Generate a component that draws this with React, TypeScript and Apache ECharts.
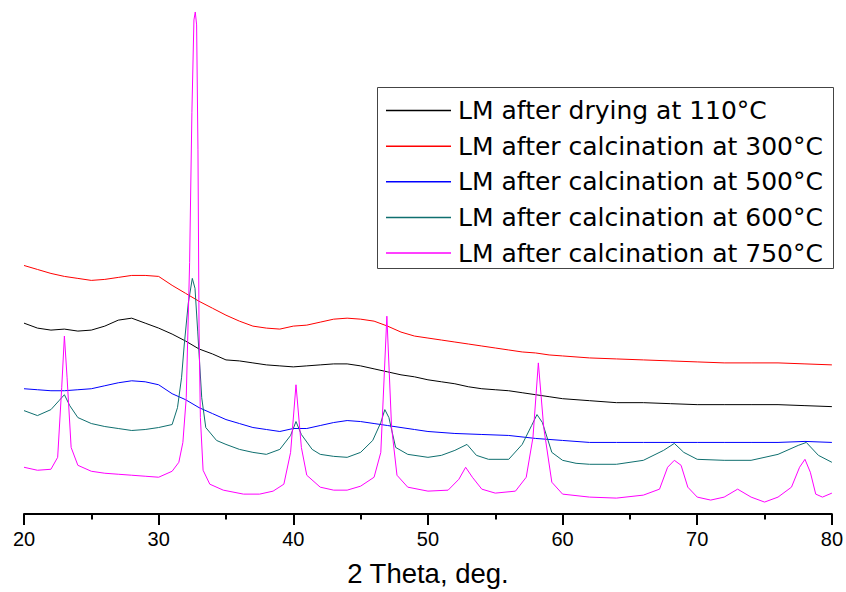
import React, { useEffect, useRef } from "react";
import * as echarts from "echarts";

const seriesNames = [
  "LM after drying at 110°C",
  "LM after calcination at 300°C",
  "LM after calcination at 500°C",
  "LM after calcination at 600°C",
  "LM after calcination at 750°C",
];
const seriesColors = ["#000000", "#ff0000", "#0000ff", "#0f6f6f", "#ff00ff"];

const xTickLabels = ["20", "30", "40", "50", "60", "70", "80"];

// [2θ, intensity (arb. units, stacked offsets as plotted)]
const dried110: [number, number][] = [
  [20, 192], [21, 187], [22, 185], [23, 186], [24, 184], [25, 185], [26, 189], [27, 195],
  [28, 197], [29, 192], [30, 187], [31, 181], [32, 174], [33, 166], [34, 161], [35, 155],
  [36, 154], [37, 152], [38, 150], [39, 149], [40, 148], [41, 149], [42, 150], [43, 151],
  [44, 151], [45, 149], [46, 146], [47, 143], [48, 140], [49, 138], [50, 135], [51, 133],
  [52, 131], [53, 128], [54, 126], [55, 125], [56, 124], [57, 122], [58, 120], [59, 118],
  [60, 116], [62, 114], [64, 112], [66, 112], [68, 111], [70, 110], [72, 110], [74, 110],
  [76, 110], [78, 109], [80, 108],
];

const calc300: [number, number][] = [
  [20, 250], [21, 246], [22, 242], [23, 239], [24, 237], [25, 235], [26, 236], [27, 238],
  [28, 240], [29, 240], [30, 239], [31, 230], [32, 222], [33, 214], [34, 207], [35, 200],
  [36, 194], [37, 189], [38, 187], [39, 186], [40, 189], [41, 190], [42, 193], [43, 196],
  [44, 197], [45, 196], [46, 194], [47, 189], [48, 183], [49, 179], [50, 177], [51, 175],
  [52, 173], [53, 171], [54, 169], [55, 167], [56, 165], [57, 163], [58, 162], [59, 160],
  [60, 159], [62, 157], [64, 156], [66, 155], [68, 154], [70, 153], [72, 152], [74, 152],
  [76, 152], [78, 151], [80, 150],
];

const calc500: [number, number][] = [
  [20, 126], [21, 125], [22, 124], [23, 124], [24, 125], [25, 126], [26, 129], [27, 132],
  [28, 134], [29, 133], [30, 130], [31, 121], [32, 115], [33, 107], [34, 101], [35, 95],
  [36, 91], [37, 87], [38, 85], [39, 83], [40, 86], [41, 86], [42, 89], [43, 92],
  [44, 94], [45, 93], [46, 91], [47, 89], [48, 87], [49, 85], [50, 83], [52, 81],
  [54, 80], [56, 79], [58, 76], [60, 74], [62, 72], [64, 72], [66, 72], [68, 72],
  [70, 72], [72, 72], [74, 72], [76, 72], [78, 73], [80, 72],
];

const calc600: [number, number][] = [
  [20, 104], [21, 99], [22, 105], [22.6, 114], [23.0, 120], [23.4, 109], [24, 97], [25, 91],
  [26, 88], [27, 86], [28, 84], [29, 85], [30, 87], [31, 90], [31.4, 107], [31.7, 137],
  [31.9, 170], [32.2, 212], [32.5, 237], [32.7, 227], [32.9, 184], [33.2, 117], [33.5, 87],
  [34.3, 74], [35, 70], [36, 65], [37, 62], [38, 60], [39, 65], [39.8, 79], [40.2, 93],
  [40.6, 80], [41.4, 65], [42, 60], [43, 58], [44, 57], [45, 62], [45.9, 74], [46.5, 92],
  [46.8, 105], [47.1, 97], [47.6, 67], [48.5, 60], [50, 57], [51, 59], [52, 64], [52.9, 70],
  [53.6, 59], [54.5, 55], [56, 55], [57, 70], [57.7, 89], [58.1, 100], [58.5, 92],
  [59.2, 62], [60, 54], [61, 51], [62, 50], [64, 50], [66, 54], [67.5, 64], [68.3, 71],
  [69, 62], [70, 55], [72, 54], [74, 54], [76, 60], [77.5, 69], [78.1, 72], [79, 59],
  [80, 52],
];

const calc750: [number, number][] = [
  [20, 47], [21, 44], [22, 45], [22.5, 57], [22.8, 127], [23.0, 179], [23.2, 137], [23.5, 67],
  [24, 49], [25, 43], [26, 41], [27, 40], [28, 39], [29, 38], [30, 37], [31, 43],
  [31.5, 52], [31.8, 72], [32.05, 117], [32.3, 253], [32.47, 404], [32.62, 497],
  [32.72, 505], [32.82, 492], [32.92, 367], [33.0, 187], [33.1, 97], [33.3, 44],
  [33.8, 30], [34.8, 24], [36.3, 20], [37.5, 20], [38.5, 23], [39.3, 30], [39.8, 62],
  [40.2, 130], [40.6, 67], [41, 39], [42, 27], [43, 24], [44, 24], [45, 28], [46, 37],
  [46.5, 62], [46.95, 199], [47.3, 87], [47.7, 39], [48.5, 27], [50, 23], [51.5, 24],
  [52.3, 35], [52.8, 47], [53.3, 37], [54, 25], [55, 21], [56.5, 23], [57.3, 37],
  [57.8, 77], [58.2, 152], [58.6, 87], [59.2, 32], [60, 20], [62, 17], [64, 16], [66, 19],
  [67.2, 25], [67.8, 47], [68.3, 54], [68.8, 49], [69.3, 27], [70, 17], [71, 14], [72, 17],
  [73, 25], [74, 17], [75, 12], [76, 17], [77, 27], [77.6, 47], [78, 55], [78.4, 42],
  [78.8, 20], [79.3, 17], [80, 21],
];

const seriesData = [dried110, calc300, calc500, calc600, calc750];

export default function App() {
  const ref = useRef<HTMLDivElement>(null);
  useEffect(() => {
    if (!ref.current) return;
    const chart = echarts.init(ref.current, null, { renderer: "svg" });
    chart.setOption({
      animation: false,
      backgroundColor: "#ffffff",
      textStyle: { fontFamily: "Liberation Sans, Arial, sans-serif" },
      grid: { left: 24, right: 12, top: 11, bottom: 75, containLabel: false },
      xAxis: {
        type: "value",
        min: 20,
        max: 80,
        interval: 10,
        name: "2 Theta, deg.",
        nameLocation: "middle",
        nameGap: 45,
        nameTextStyle: { fontSize: 27.5, color: "#000", fontFamily: "Liberation Sans, Arial, sans-serif" },
        axisLine: { show: true, lineStyle: { color: "#000", width: 2 } },
        axisTick: { show: true, inside: false, length: 11, lineStyle: { color: "#000", width: 2 } },
        minorTick: { show: true, splitNumber: 2, length: 5.5, lineStyle: { color: "#000", width: 2 } },
        splitLine: { show: false },
        minorSplitLine: { show: false },
        axisLabel: {
          fontSize: 20,
          color: "#000",
          margin: 15,
          fontFamily: "Liberation Sans, Arial, sans-serif",
          formatter: (v: number) => {
            const idx = Math.round((v - 20) / 10);
            return xTickLabels[idx] ?? String(v);
          },
        },
      },
      yAxis: { type: "value", min: 0, max: 506, show: false },
      legend: {
        data: seriesNames.map((n) => ({ name: n, icon: "rect" })),
        orient: "vertical",
        left: 386,
        top: 97.5,
        padding: 0,
        itemWidth: 65,
        itemHeight: 1.5,
        itemGap: 9.65,
        textStyle: {
          fontFamily: "DejaVu Sans",
          fontSize: 25,
          lineHeight: 26,
          color: "#000",
          padding: [0, 0, 0, 2],
        },
        selectedMode: false,
      },
      graphic: [
        {
          type: "rect",
          shape: { x: 377.5, y: 87.5, width: 456, height: 181 },
          style: { fill: "none", stroke: "#444", lineWidth: 1 },
          silent: true,
        },
      ],
      series: seriesNames.map((name, i) => ({
        name,
        type: "line",
        data: seriesData[i],
        symbol: "none",
        showSymbol: false,
        color: seriesColors[i],
        itemStyle: { color: seriesColors[i] },
        lineStyle: { color: seriesColors[i], width: 1 },
        emphasis: { disabled: true },
        silent: true,
        z: 2 + i,
      })),
    });
    return () => chart.dispose();
  }, []);
  return (
    <div
      ref={ref}
      style={{ position: "absolute", left: 0, top: 0, width: 846, height: 592 }}
    />
  );
}
